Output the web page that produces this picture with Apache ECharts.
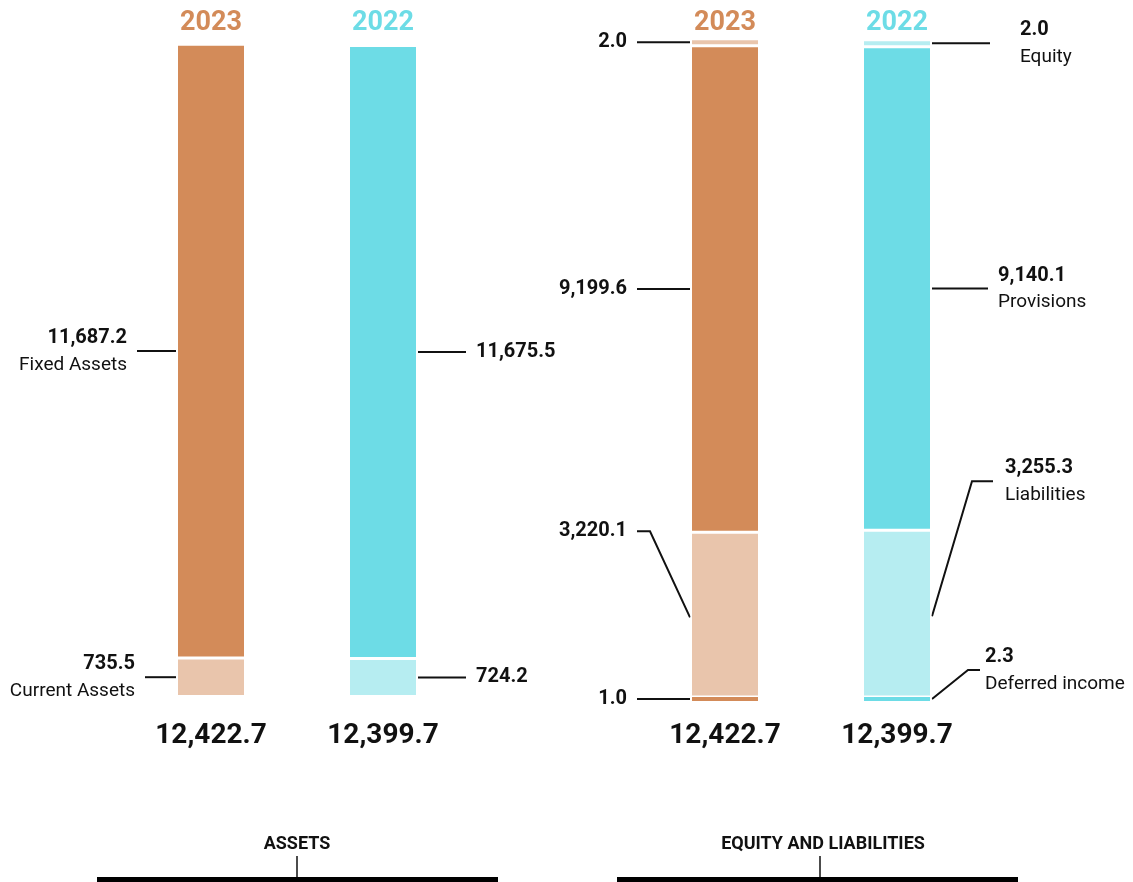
<!DOCTYPE html>
<html>
<head>
<meta charset="utf-8">
<title>Balance sheet 2023 vs 2022</title>
<script src="https://cdn.jsdelivr.net/npm/echarts@6/dist/echarts.min.js"></script>
<style>
  html, body { margin: 0; padding: 0; background: #ffffff; }
  #chart { width: 1133px; height: 882px; }
</style>
</head>
<body>
<div id="chart"></div>
<script>
// ---- data ----
const years = ['2023', '2022'];

const assetNames = ['Fixed Assets', 'Current Assets'];
const fixedAssets = [11687.2, 11675.5];
const currentAssets = [735.5, 724.2];
const assetTotals = [12422.7, 12399.7];

const liabNames = ['Equity', 'Provisions', 'Liabilities', 'Deferred income'];
const equity = [2.0, 2.0];
const provisions = [9199.6, 9140.1];
const liabilities = [3220.1, 3255.3];
const deferredIncome = [1.0, 2.3];
const liabTotals = [12422.7, 12399.7];

const panelTitles = ['ASSETS', 'EQUITY AND LIABILITIES'];

// ---- styling ----
const yearColors = { dark: ['#D38B59', '#6DDCE6'], light: ['#E9C5AC', '#B6EDF1'] };
const INK = '#111111';
const FONT = 'Roboto, "Noto Sans", sans-serif';
const MIN_STRIP = 7;   // smallest drawn bar segment (px), so tiny items stay visible

const fmt = v => v.toLocaleString('en-US', { minimumFractionDigits: 1, maximumFractionDigits: 1 });

const chart = echarts.init(document.getElementById('chart'), null, { renderer: 'canvas' });

function barSeries(name, data, gridIndex, shade, extra) {
  return Object.assign({
    name: name,
    type: 'bar',
    xAxisIndex: gridIndex,
    yAxisIndex: gridIndex,
    stack: 'panel' + gridIndex,
    data: data,
    barWidth: 69,
    itemStyle: {
      color: p => yearColors[shade][p.dataIndex],
      borderColor: '#ffffff',
      borderWidth: 1.5
    },
    emphasis: { disabled: true },
    animation: false
  }, extra || {});
}

const hiddenCat = gi => ({ type: 'category', gridIndex: gi, data: years, show: false });
const hiddenVal = gi => ({ type: 'value', gridIndex: gi, min: 0, max: 13000, show: false });

chart.setOption({
  animation: false,
  grid: [
    { left: 125, width: 344, top: 14, bottom: 185.5 },
    { left: 639, width: 344, top: 15, bottom: 179.5 }
  ],
  xAxis: [hiddenCat(0), hiddenCat(1)],
  yAxis: [hiddenVal(0), hiddenVal(1)],
  series: [
    // assets, bottom to top
    barSeries(assetNames[1], currentAssets, 0, 'light'),
    barSeries(assetNames[0], fixedAssets, 0, 'dark'),
    // equity and liabilities, bottom to top; the thin strips sit above their neighbours
    barSeries(liabNames[3], deferredIncome, 1, 'dark', { barMinHeight: MIN_STRIP, z: 3 }),
    barSeries(liabNames[2], liabilities, 1, 'light'),
    barSeries(liabNames[1], provisions, 1, 'dark'),
    barSeries(liabNames[0], equity, 1, 'light', { barMinHeight: MIN_STRIP, z: 3 })
  ]
});

// ---- annotations (leader lines, values, captions) ----
// stacks listed bottom to top
const stacks = [
  { grid: 0, values: [currentAssets, fixedAssets], names: [assetNames[1], assetNames[0]], totals: assetTotals },
  { grid: 1, values: [deferredIncome, liabilities, provisions, equity], names: [liabNames[3], liabNames[2], liabNames[1], liabNames[0]], totals: liabTotals }
];

// leader layout per [panel][year], one entry per stack segment (bottom to top)
const leaderLayout = [
  [
    { side: -1, caption: true,  segs: [{ len: 31, gap: 10 }, { len: 39, gap: 10 }] },
    { side: 1,  caption: false, segs: [{ len: 48, gap: 10 }, { len: 48, gap: 10 }] }
  ],
  [
    { side: -1, caption: false, segs: [
      { len: 53, gap: 10 },
      { len: 53, gap: 10, knee: 40, dy: -86 },
      { len: 53, gap: 10 },
      { len: 53, gap: 10 }
    ] },
    { side: 1, caption: true, segs: [
      { len: 48, gap: 5, knee: 36, dy: -29 },
      { len: 61, gap: 12, knee: 40, dy: -135 },
      { len: 56, gap: 10 },
      { len: 58, gap: 30 }
    ] }
  ]
];

const graphics = [];
const halfBar = 35;

stacks.forEach((stk, pi) => {
  years.forEach((yr, ci) => {
    const px = v => chart.convertToPixel({ gridIndex: stk.grid }, [ci, v]);
    const cx = px(0)[0];
    const lay = leaderLayout[pi][ci];
    let base = 0;

    stk.values.forEach((arr, si) => {
      const v = arr[ci];
      // segment extent on the value axis, widened to the minimum strip height
      const y0 = px(base)[1];
      let y1 = px(base + v)[1];
      if (Math.abs(y0 - y1) < MIN_STRIP) y1 = y0 - MIN_STRIP;
      base += v;

      const mid = (y0 + y1) / 2;
      const seg = lay.segs[si];
      const s = lay.side;
      const xStart = cx + s * halfBar;
      const pts = [[xStart, mid]];
      let ly = mid;
      if (seg.knee) {
        ly = mid + seg.dy;
        pts.push([xStart + s * seg.knee, ly]);
      }
      const xEnd = xStart + s * seg.len;
      pts.push([xEnd, ly]);

      graphics.push({
        type: 'polyline',
        shape: { points: pts },
        style: { stroke: INK, lineWidth: 2, fill: null },
        silent: true
      });

      const tx = xEnd + s * seg.gap;
      const align = s < 0 ? 'right' : 'left';
      graphics.push({
        type: 'text',
        x: tx, y: lay.caption ? ly - 13 : ly,
        style: { text: fmt(v), font: 'bold 20px ' + FONT, fill: INK, align: align, verticalAlign: 'middle' },
        silent: true
      });
      if (lay.caption) {
        graphics.push({
          type: 'text',
          x: tx, y: ly + 14,
          style: { text: stk.names[si], font: '19px ' + FONT, fill: INK, align: align, verticalAlign: 'middle' },
          silent: true
        });
      }
    });

    // year heading and total
    graphics.push({
      type: 'text', x: cx, y: 23,
      style: { text: yr, font: 'bold 27px ' + FONT, fill: yearColors.dark[ci], align: 'center', verticalAlign: 'middle' },
      silent: true
    });
    graphics.push({
      type: 'text', x: cx, y: 736,
      style: { text: fmt(stk.totals[ci]), font: 'bold 28px ' + FONT, fill: INK, align: 'center', verticalAlign: 'middle' },
      silent: true
    });
  });
});

// panel titles with bracket rules
const bracketLayout = [
  { title: 297, stem: 297, left: 97, right: 498 },
  { title: 823, stem: 820, left: 617, right: 1018 }
];
panelTitles.forEach((t, i) => {
  const b = bracketLayout[i];
  graphics.push({
    type: 'text', x: b.title, y: 844,
    style: { text: t, font: 'bold 18px ' + FONT, fill: INK, align: 'center', verticalAlign: 'middle' },
    silent: true
  });
  graphics.push({
    type: 'line', shape: { x1: b.stem, y1: 856, x2: b.stem, y2: 878 },
    style: { stroke: INK, lineWidth: 1.5 }, silent: true
  });
  graphics.push({
    type: 'rect', shape: { x: b.left, y: 877, width: b.right - b.left, height: 5 },
    style: { fill: '#000000' }, silent: true
  });
});

chart.setOption({ graphic: graphics });
</script>
</body>
</html>
